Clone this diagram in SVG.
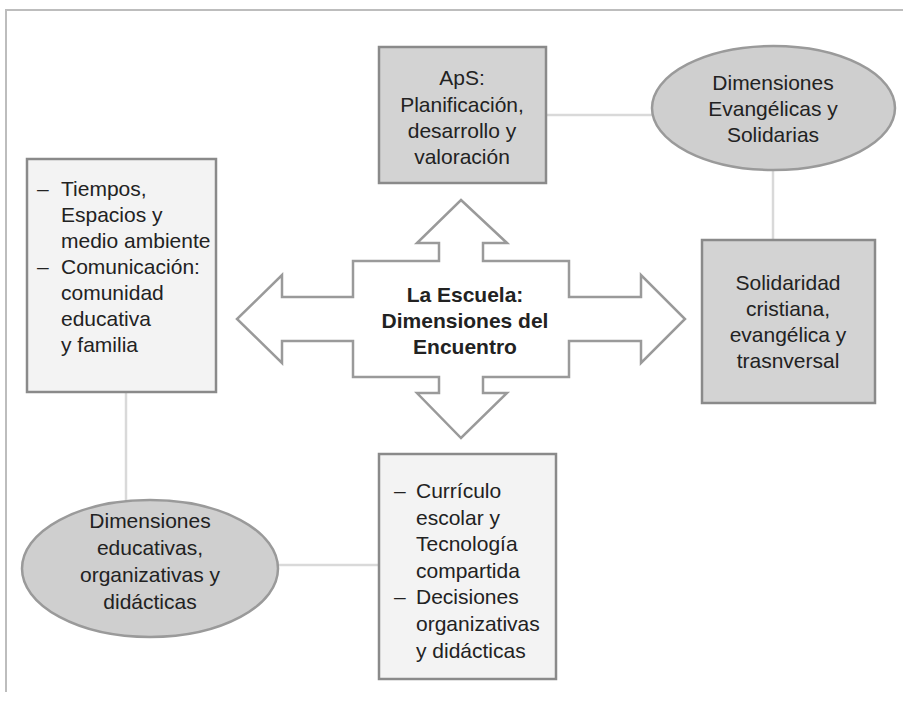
<svg xmlns="http://www.w3.org/2000/svg" width="903" height="706" viewBox="0 0 903 706">
<style>
text{font-family:"Liberation Sans",Arial,Helvetica,sans-serif;font-size:21px;fill:#222}
.c{text-anchor:middle}
.b{font-weight:bold}
.dark{fill:#d3d3d3;stroke:#8a8a8a;stroke-width:2.5}
.light{fill:#f3f3f3;stroke:#8a8a8a;stroke-width:2.5}
.ell{fill:#cfcfcf;stroke:#9a9a9a;stroke-width:2.5}
.con{stroke:#d9d9d9;stroke-width:2.5;fill:none}
.frame{stroke:#bdbdbd;stroke-width:2;fill:none}
</style>
<rect width="903" height="706" fill="#fff"/>
<path class="frame" d="M903,10 H6 V692"/>
<g id="connectors">
<line class="con" x1="546" y1="115" x2="652" y2="115"/>
<line class="con" x1="773" y1="170" x2="773" y2="240"/>
<line class="con" x1="126" y1="392" x2="126" y2="501"/>
<line class="con" x1="278" y1="565" x2="379" y2="565"/>
</g>
<g id="center">
<polygon points="461,200 507,243 483,243 483,261 569,261 569,297 641,297 641,275 685,319 641,363 641,341 569,341 569,377 483,377 483,393 507,393 461,438 417,393 439,393 439,377 353,377 353,341 282,341 282,363 237,319 282,275 282,297 353,297 353,261 439,261 439,243 417,243" fill="#fff" stroke="#9a9a9a" stroke-width="2.5" stroke-linejoin="miter"/>
<text class="c b" x="465" y="302">La Escuela:</text>
<text class="c b" x="465" y="328">Dimensiones del</text>
<text class="c b" x="465" y="354">Encuentro</text>
</g>
<g id="aps">
<rect class="dark" x="379" y="47" width="167" height="136"/>
<text class="c" x="462" y="85">ApS:</text>
<text class="c" x="462" y="112">Planificación,</text>
<text class="c" x="462" y="138">desarrollo y</text>
<text class="c" x="462" y="164">valoración</text>
</g>
<g id="evangelicas">
<ellipse class="ell" cx="773.5" cy="108" rx="121.5" ry="62"/>
<text class="c" x="773" y="90">Dimensiones</text>
<text class="c" x="773" y="116">Evangélicas y</text>
<text class="c" x="773" y="142">Solidarias</text>
</g>
<g id="solidaridad">
<rect class="dark" x="702" y="240" width="173" height="163"/>
<text class="c" x="788" y="290">Solidaridad</text>
<text class="c" x="788" y="316">cristiana,</text>
<text class="c" x="788" y="342">evangélica y</text>
<text class="c" x="788" y="368">trasnversal</text>
</g>
<g id="tiempos">
<rect class="light" x="27" y="159" width="189" height="233"/>
<text x="37" y="196">–</text><text x="61" y="196">Tiempos,</text>
<text x="61" y="222">Espacios y</text>
<text x="61" y="248">medio ambiente</text>
<text x="37" y="274">–</text><text x="61" y="274">Comunicación:</text>
<text x="61" y="300">comunidad</text>
<text x="61" y="326">educativa</text>
<text x="61" y="352">y familia</text>
</g>
<g id="educativas">
<ellipse class="ell" cx="150" cy="568.5" rx="128" ry="68.5"/>
<text class="c" x="150" y="528">Dimensiones</text>
<text class="c" x="150" y="555">educativas,</text>
<text class="c" x="150" y="582">organizativas y</text>
<text class="c" x="150" y="609">didácticas</text>
</g>
<g id="curriculo">
<rect class="light" x="379" y="454" width="177" height="225"/>
<text x="394" y="498">–</text><text x="416" y="498">Currículo</text>
<text x="416" y="525">escolar y</text>
<text x="416" y="551">Tecnología</text>
<text x="416" y="578">compartida</text>
<text x="394" y="604">–</text><text x="416" y="604">Decisiones</text>
<text x="416" y="631">organizativas</text>
<text x="416" y="658">y didácticas</text>
</g>
</svg>
